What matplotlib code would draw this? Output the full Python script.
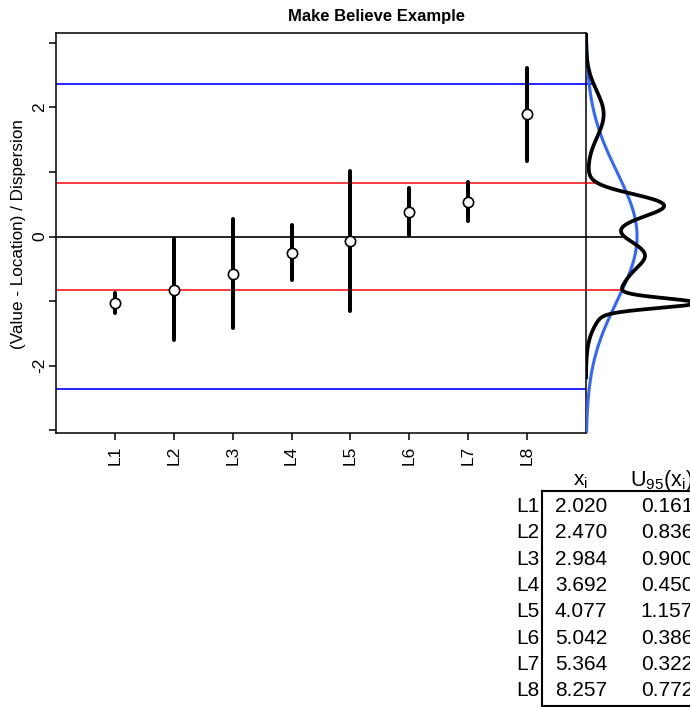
import matplotlib

matplotlib.use("Agg")
import matplotlib.pyplot as plt
import numpy as np
from matplotlib.lines import Line2D

plt.rcParams["font.family"] = ["Liberation Sans", "DejaVu Sans"]

# lab results (value and expanded uncertainty) as listed in the table
LABS = ["L1", "L2", "L3", "L4", "L5", "L6", "L7", "L8"]
X = [2.020, 2.470, 2.984, 3.692, 4.077, 5.042, 5.364, 8.257]
U95 = [0.161, 0.836, 0.900, 0.450, 1.157, 0.386, 0.322, 0.772]
LOC = 4.22        # location used for the scaling
DISP = 2.134      # dispersion used for the scaling
RED_LIM = 0.83    # inner limits
BLUE_LIM = 2.354  # outer limits
Z_LO = -2.18      # lower end of the mixture density curve

W, H = 690, 707
YLIM = (-3.04, 3.15)
DENS_PX = 128.0   # pixels per unit of density in the side panel


def fx(px):
    return px / W


def fy(py):
    return 1 - py / H


def npdf(z, m, s):
    return np.exp(-0.5 * ((z - m) / s) ** 2) / (s * np.sqrt(2 * np.pi))


def mix(z):
    z = np.asarray(z, dtype=float)
    return np.mean([npdf(z, m, s) for m, s in zip(zs, ss)], axis=0)


x = np.asarray(X)
u = np.asarray(U95)
zs = (x - LOC) / DISP
ss = u / DISP
pos = np.arange(1, len(LABS) + 1)

fig = plt.figure(figsize=(W / 100, H / 100), dpi=100)
ax = fig.add_axes([fx(56), fy(433), 530 / W, 400 / H])
ax.set_xlim(0, 9)
ax.set_ylim(*YLIM)

for h, col in [(0, "black"), (RED_LIM, "#ff1a1a"), (-RED_LIM, "#ff1a1a"),
               (BLUE_LIM, "#0000ff"), (-BLUE_LIM, "#0000ff")]:
    ax.axhline(h, color=col, lw=1.2, zorder=1)

ax.vlines(pos, zs - 2 * ss, zs + 2 * ss, color="black", lw=2.9, capstyle="round", zorder=2)
ax.plot(pos, zs, "o", ms=7.4, mfc="white", mec="black", mew=1.2, zorder=3)

ax.set_xticks(pos)
ax.set_xticklabels(LABS, rotation=90, fontsize=12.5)
ax.set_yticks([-3, -2, -1, 0, 1, 2, 3])
ax.set_yticklabels(["", "-2", "", "0", "", "2", ""], rotation=90, fontsize=12.5, va="center")
ax.tick_params(axis="x", length=5, width=1.1, pad=4)
ax.tick_params(axis="y", length=5, width=1.1, pad=1.5)
for sp in ax.spines.values():
    sp.set_linewidth(1.1)

# side panel: mixture density (black) and standard normal (blue)
ax2 = fig.add_axes([fx(586), fy(433), 104 / W, 400 / H], sharey=ax)
ax2.set_xlim(0, 104 / DENS_PX)
ax2.axis("off")
zb = np.linspace(YLIM[0], YLIM[1], 400)
ax2.plot(npdf(zb, 0, 1), zb, color="#3366ff", lw=2.2, zorder=2)
zk = np.linspace(Z_LO, YLIM[1], 600)
ax2.plot(mix(zk), zk, color="black", lw=2.7, zorder=3)
for h, col in [(0, "black"), (RED_LIM, "#ff1a1a"), (-RED_LIM, "#ff1a1a"),
               (BLUE_LIM, "#0000ff"), (-BLUE_LIM, "#0000ff")]:
    d = float(mix(h)) if Z_LO <= h <= YLIM[1] else 0.0
    ax2.plot([0, d], [h, h], color=col, lw=1.2, zorder=1)

fig.text(fx(376), fy(21), "Make Believe Example", ha="center", va="baseline",
         fontsize=12, fontweight="bold")
fig.text(fx(19), fy(234), "(Value - Location) / Dispersion", rotation=90,
         ha="center", va="center", fontsize=12.3)

# table of values
fig.text(fx(580), fy(486), r"$\mathregular{x_i}$", ha="center", va="baseline", fontsize=15)
fig.text(fx(661), fy(486), r"$\mathregular{U_{95}(x_i)}$", ha="center", va="baseline",
         fontsize=15.5)
for k, (lab, xv, uv) in enumerate(zip(LABS, X, U95)):
    yb = fy(512 + 26.3 * k)
    fig.text(fx(539), yb, lab, ha="right", va="baseline", fontsize=15)
    fig.text(fx(581), yb, f"{xv:.3f}", ha="center", va="baseline", fontsize=15)
    fig.text(fx(667), yb, f"{uv:.3f}", ha="center", va="baseline", fontsize=15)
fig.add_artist(Line2D([fx(542), fx(542)], [fy(491), fy(706)], color="black", lw=1.5))
fig.add_artist(Line2D([fx(542), fx(690)], [fy(491), fy(491)], color="black", lw=1.5))
fig.add_artist(Line2D([fx(542), fx(690)], [fy(705.5), fy(705.5)], color="black", lw=1.5))

fig.savefig("out.png", dpi=100)
